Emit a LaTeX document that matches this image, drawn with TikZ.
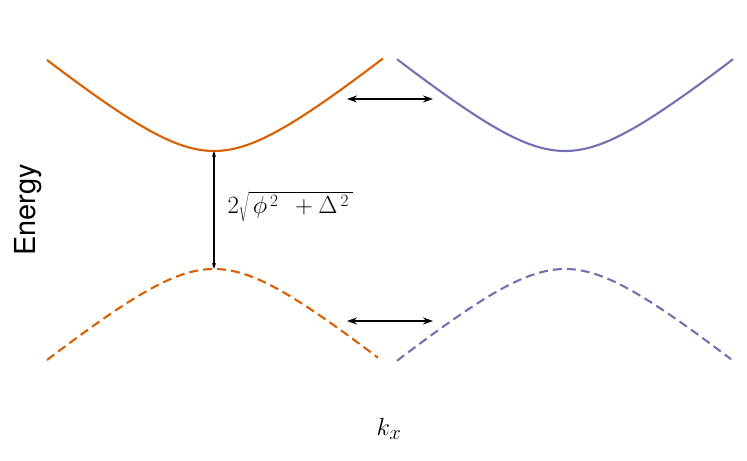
\documentclass[tikz,border=0pt]{standalone}
\usepackage{fontspec}
\setsansfont{TeX Gyre Heros}
\usetikzlibrary{positioning, arrows.meta}
\definecolor{bandA}{HTML}{D95F02}
\definecolor{bandB}{HTML}{7570B3}
\definecolor{ink}{HTML}{000000}

\begin{document}
\begin{tikzpicture}[x=1bp, y=1bp,
    band/.style={line width=2.1bp},
    hole/.style={band, dash pattern=on 9bp off 5bp},
    swap/.style={{Stealth[length=10bp,width=7bp]}-{Stealth[length=10bp,width=7bp]}, line width=2.4bp, ink},
    gap/.style={{Stealth[length=6bp,width=4bp]}-{Stealth[length=6bp,width=4bp]}, line width=1.3bp, ink}]
  \useasboundingbox (0,0) rectangle (747,461);

  % Left cone (orange): electron and hole bands.
  \draw[band, bandA] plot[domain=-167:169, samples=80, smooth]
    ({214+\x}, {251+10*sqrt(5.9*5.9+(0.0826*\x)*(0.0826*\x))});
  \draw[hole, bandA] plot[domain=-167:164, samples=80, smooth]
    ({214+\x}, {251-10*sqrt(5.9*5.9+(0.0826*\x)*(0.0826*\x))});

  % Right cone (purple).
  \draw[band, bandB] plot[domain=-168:168, samples=80, smooth]
    ({565+\x}, {251+10*sqrt(5.9*5.9+(0.0826*\x)*(0.0826*\x))});
  \draw[hole, bandB] plot[domain=-168:166, samples=80, smooth]
    ({565+\x}, {251-10*sqrt(5.9*5.9+(0.0826*\x)*(0.0826*\x))});

  % Gap between the bands.
  \coordinate (gapTop) at (214,310);
  \coordinate (gapBot) at (214,192);
  \draw[gap] (gapTop) -- (gapBot);
  \node[anchor=west, font=\fontsize{23}{28}\selectfont] (gapLabel) at (224,254)
    {$2\sqrt{\vphantom{\big(}\,\phi^{\,2}\ \,+\Delta^{\,2}\,}$};

  % Valley exchange arrows.
  \coordinate (upL) at (347,362);
  \coordinate (upR) at (433,362);
  \coordinate (dnL) at (347,140);
  \coordinate (dnR) at (433,140);
  \draw[swap] (upL) -- (upR);
  \draw[swap] (dnL) -- (dnR);

  % Axis labels.
  \node[rotate=90, font=\sffamily\fontsize{29}{34}\selectfont] (energy) at (28,251) {Energy};
  \node[font=\fontsize{32}{38}\selectfont] (kx) at (389,32) {$k_x$};
\end{tikzpicture}
\end{document}
